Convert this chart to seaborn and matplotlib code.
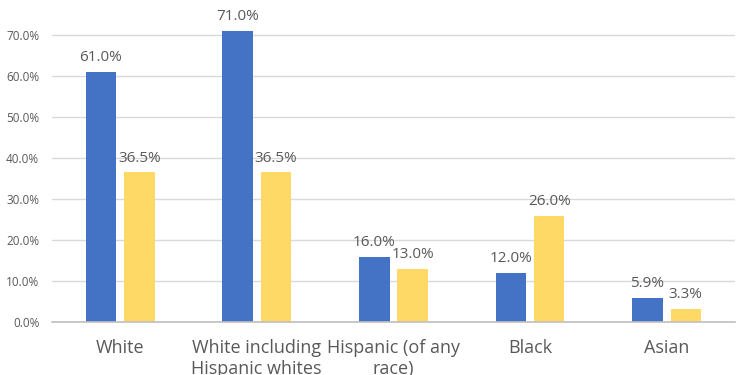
import matplotlib
matplotlib.use("Agg")
import matplotlib.pyplot as plt
import seaborn as sns
import pandas as pd
from matplotlib.ticker import PercentFormatter

# data
categories = ["White", "White including\nHispanic whites", "Hispanic (of any\nrace)", "Black", "Asian"]
series_names = ["Series 1", "Series 2"]
series1 = [61.0, 71.0, 16.0, 12.0, 5.9]
series2 = [36.5, 36.5, 13.0, 26.0, 3.3]
yticks = [0, 10, 20, 30, 40, 50, 60, 70]

df = pd.DataFrame({
    "category": categories * 2,
    "series": [series_names[0]] * len(categories) + [series_names[1]] * len(categories),
    "value": series1 + series2,
})

sns.set_theme(style="white")
plt.rcParams["font.family"] = ["Open Sans", "DejaVu Sans"]

text_color = "#595959"
fig = plt.figure(figsize=(7.5, 3.75), dpi=100)
# axes top sits at 75% so the 71% bar is not cut
ax = fig.add_axes([0.069, 0.141, 0.911, 0.820])

sns.barplot(data=df, x="category", y="value", hue="series",
            palette=["#4472C4", "#FFD966"], width=0.56, gap=0.2,
            saturation=1, linewidth=0, legend=False, ax=ax)

for cont in ax.containers:
    ax.bar_label(cont, labels=[f"{b.get_height():.1f}%" for b in cont],
                 padding=5, fontsize=11, color=text_color)

ax.set_ylim(0, 75)
ax.set_yticks(yticks)
ax.yaxis.set_major_formatter(PercentFormatter(decimals=1))
ax.set_xlim(-0.5, 4.5)
ax.grid(axis="y", color="#D9D9D9", linewidth=1)
ax.set_axisbelow(True)
for s in ["top", "right", "left"]:
    ax.spines[s].set_visible(False)
ax.spines["bottom"].set_color("#BFBFBF")
ax.spines["bottom"].set_linewidth(1.2)
ax.tick_params(axis="y", labelsize=8.5, colors=text_color, length=0, pad=9)
ax.tick_params(axis="x", labelsize=13, colors=text_color, length=0, pad=12)
for lbl in ax.get_xticklabels():
    lbl.set_verticalalignment("top")
    lbl.set_linespacing(1.25)
ax.set_xlabel("")
ax.set_ylabel("")

fig.savefig("out.png", dpi=100)
